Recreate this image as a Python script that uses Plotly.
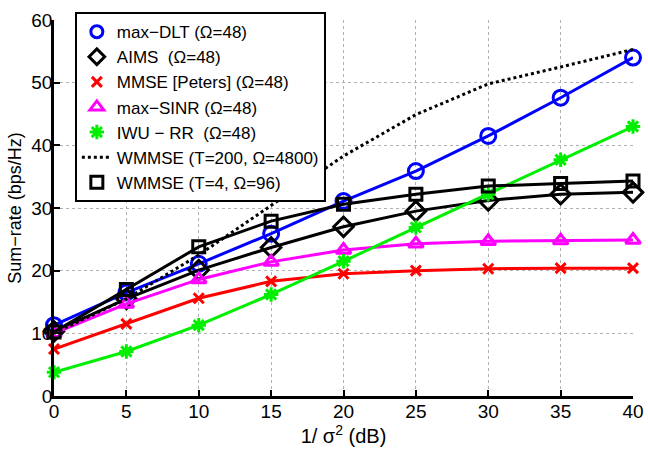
import plotly.graph_objects as go

snr_db = [0, 5, 10, 15, 20, 25, 30, 35, 40]

max_dlt = [11.3, 16.5, 21.1, 25.9, 31.1, 35.9, 41.5, 47.6, 54.0]
aims = [10.3, 15.5, 20.1, 23.7, 27.0, 29.5, 31.2, 32.2, 32.5]
mmse_peters = [7.5, 11.5, 15.6, 18.3, 19.5, 20.0, 20.3, 20.4, 20.4]
max_sinr = [10.0, 14.7, 18.6, 21.4, 23.3, 24.3, 24.7, 24.8, 24.9]
iwu_rr = [3.8, 7.1, 11.3, 16.2, 21.5, 26.9, 32.2, 37.7, 43.0]
wmmse_t200 = [10.0, 15.5, 22.5, 30.4, 38.3, 44.9, 49.8, 52.5, 55.3]
wmmse_t4 = [10.2, 17.0, 23.8, 27.9, 30.6, 32.2, 33.5, 33.9, 34.3]

x_ticks = [0, 5, 10, 15, 20, 25, 30, 35, 40]
y_ticks = [0, 10, 20, 30, 40, 50, 60]

names = [
    "max\u2212DLT (\u03a9=48)",
    "AIMS  (\u03a9=48)",
    "MMSE [Peters] (\u03a9=48)",
    "max\u2212SINR (\u03a9=48)",
    "IWU \u2212 RR  (\u03a9=48)",
    "WMMSE (T=200, \u03a9=4800)",
    "WMMSE (T=4, \u03a9=96)",
]

FONT = "Liberation Sans, Arial, Helvetica, sans-serif"

series = [
    (max_dlt, "blue", "circle-open", 15, "solid", "lines+markers"),
    (aims, "black", "diamond-open", 15, "solid", "lines+markers"),
    (mmse_peters, "red", "x-thin-open", 10, "solid", "lines+markers"),
    (max_sinr, "magenta", "triangle-up-open", 13, "solid", "lines+markers"),
    (iwu_rr, "#00ee00", "asterisk-open", 12, "solid", "lines+markers"),
    (wmmse_t200, "black", "circle", 1, "dot", "lines"),
    (wmmse_t4, "black", "square-open", 12, "solid", "lines+markers"),
]

fig = go.Figure()
for (vals, col, sym, sz, dash, mode), nm in zip(series, names):
    fig.add_trace(go.Scatter(
        x=snr_db, y=vals, mode=mode, name=nm, showlegend=False,
        line=dict(color=col, width=3, dash=dash),
        marker=dict(symbol=sym, size=sz, color=col, line=dict(color=col, width=3)),
        cliponaxis=False,
    ))
# legend entries (marker-only samples like the original)
for (vals, col, sym, sz, dash, mode), nm in zip(series, names):
    if mode == "lines":
        fig.add_trace(go.Scatter(
            x=[None], y=[None], mode="lines", name=nm,
            line=dict(color=col, width=3, dash="dot"),
        ))
    else:
        fig.add_trace(go.Scatter(
            x=[None], y=[None], mode="markers", name=nm,
            marker=dict(symbol=sym, size=min(sz, 12), color=col, line=dict(color=col, width=3)),
        ))

axis_common = dict(
    showline=True, linecolor="black", linewidth=2.5, mirror=False,
    ticks="inside", ticklen=6, tickwidth=2, tickcolor="black",
    showgrid=True, gridcolor="#b0b0b0", griddash="dot", gridwidth=1,
    zeroline=False, tickfont=dict(family=FONT, size=19, color="black"),
    automargin=False,
)

fig.update_layout(
    width=648, height=453,
    margin=dict(l=54, r=15, t=15, b=57),
    paper_bgcolor="white", plot_bgcolor="white",
    font=dict(family=FONT, color="black"),
    xaxis=dict(range=[0, 40], tickvals=x_ticks, ticklabelstandoff=-4, **axis_common,
               title=dict(text="1/ \u03c3<sup>2</sup> (dB)", font=dict(family=FONT, size=20), standoff=4)),
    yaxis=dict(range=[0, 60], tickvals=y_ticks, ticklabelstandoff=-5, **axis_common,
               title=dict(text="Sum\u2212rate (bps/Hz)", font=dict(family=FONT, size=18), standoff=6)),
    legend=dict(
        x=0.036, y=1.021, xanchor="left", yanchor="top",
        bgcolor="white", bordercolor="black", borderwidth=2,
        font=dict(family=FONT, size=17, color="black"),
        itemwidth=30, tracegroupgap=0,
    ),
)

fig.write_html(
    "out.html",
    config={"displayModeBar": False},
    post_script="document.body.style.margin='0';document.body.style.overflow='hidden';",
)
